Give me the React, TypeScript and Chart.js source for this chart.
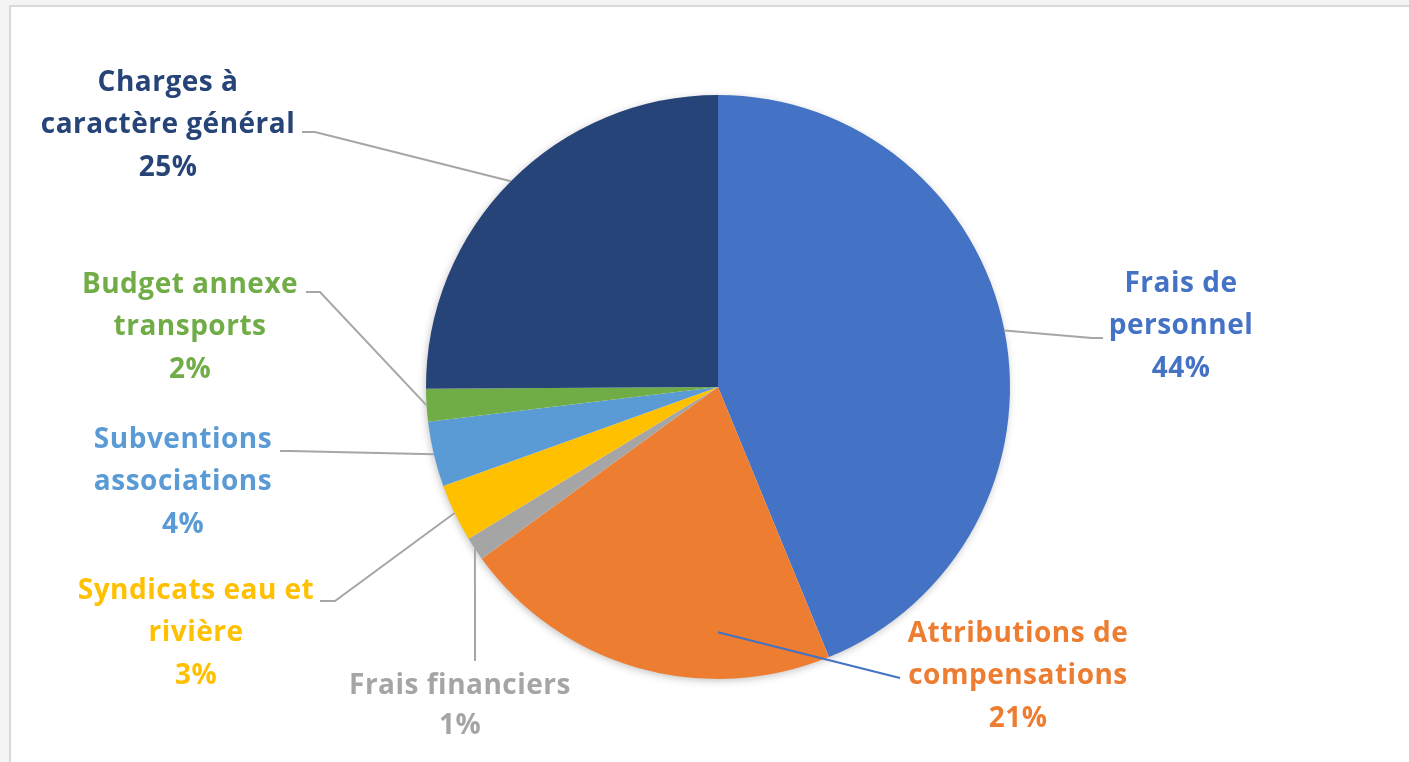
import React, { useEffect, useRef } from "react";
import { Chart, registerables } from "chart.js";

Chart.register(...registerables);

const categories = [
  "Frais de personnel",
  "Attributions de compensations",
  "Frais financiers",
  "Syndicats eau et rivière",
  "Subventions associations",
  "Budget annexe transports",
  "Charges à caractère général",
];
const labelLines = [
  ["Frais de", "personnel"],
  ["Attributions de", "compensations"],
  ["Frais financiers"],
  ["Syndicats eau et", "rivière"],
  ["Subventions", "associations"],
  ["Budget annexe", "transports"],
  ["Charges à", "caractère général"],
];
const values = [43.8, 21.2, 1.3, 3.2, 3.6, 1.8, 25.1];
const colors = ["#4472C4", "#ED7D31", "#A5A5A5", "#FFC000", "#5B9BD5", "#70AD47", "#264478"];

// label layout (x center, first line y) and leader anchor points
const labelPos = [
  { x: 1181, y: 284 },
  { x: 1018, y: 634 },
  { x: 460, y: 686 },
  { x: 196, y: 591 },
  { x: 183, y: 440 },
  { x: 190, y: 285 },
  { x: 168, y: 83 },
];
const leaders: { pts: number[][]; color: string }[] = [
  { pts: [[1103, 338], [1092, 338]], color: "#A6A6A6" },
  { pts: [[900, 678]], color: "#4472C4" },
  { pts: [[475, 661]], color: "#A6A6A6" },
  { pts: [[320, 601], [335, 601]], color: "#A6A6A6" },
  { pts: [[280, 451], [290, 451]], color: "#A6A6A6" },
  { pts: [[306, 292], [320, 292]], color: "#A6A6A6" },
  { pts: [[302, 132], [315, 132]], color: "#A6A6A6" },
];

const FONT = "'Open Sans', Lato, sans-serif";

const framePlugin = {
  id: "frame",
  beforeDraw(chart: any) {
    const ctx = chart.ctx;
    const w = chart.width;
    const h = chart.height;
    ctx.save();
    ctx.fillStyle = "#F4F4F4";
    ctx.fillRect(0, 0, w, h);
    ctx.fillStyle = "#FFFFFF";
    ctx.fillRect(11, 7, w - 11, h - 7);
    ctx.strokeStyle = "#D9D9D9";
    ctx.lineWidth = 2;
    ctx.beginPath();
    ctx.moveTo(10, h);
    ctx.lineTo(10, 6);
    ctx.lineTo(w, 6);
    ctx.stroke();
    ctx.restore();
  },
  beforeDatasetsDraw(chart: any) {
    const meta = chart.getDatasetMeta(0);
    const a = meta.data[0];
    if (!a) return;
    const ctx = chart.ctx;
    ctx.save();
    ctx.shadowColor = "rgba(0,0,0,0.28)";
    ctx.shadowBlur = 9;
    ctx.shadowOffsetX = -1;
    ctx.shadowOffsetY = 2;
    ctx.fillStyle = "#FFFFFF";
    ctx.beginPath();
    ctx.arc(a.x, a.y, a.outerRadius - 1, 0, Math.PI * 2);
    ctx.fill();
    ctx.restore();
  },
};

const labelPlugin = {
  id: "outLabels",
  afterDatasetsDraw(chart: any) {
    const ctx = chart.ctx;
    const meta = chart.getDatasetMeta(0);
    const total = values.reduce((s, v) => s + v, 0);
    meta.data.forEach((arc: any, i: number) => {
      const mid = (arc.startAngle + arc.endAngle) / 2;
      const r = arc.outerRadius;
      let ax = arc.x + Math.cos(mid) * r;
      let ay = arc.y + Math.sin(mid) * r;
      if (i === 1) {
        ax = arc.x;
        ay = arc.y + r * 0.84;
      }
      const ld = leaders[i];
      ctx.save();
      ctx.strokeStyle = ld.color;
      ctx.lineWidth = 2;
      ctx.beginPath();
      ctx.moveTo(ld.pts[0][0], ld.pts[0][1]);
      for (let k = 1; k < ld.pts.length; k++) ctx.lineTo(ld.pts[k][0], ld.pts[k][1]);
      ctx.lineTo(ax, ay);
      ctx.stroke();
      ctx.restore();

      const lines = [...labelLines[i], Math.round((values[i] / total) * 100) + "%"];
      const p = labelPos[i];
      ctx.save();
      ctx.fillStyle = colors[i];
      ctx.font = "bold 28px " + FONT;
      try {
        (ctx as any).letterSpacing = "0.5px";
      } catch (e) {}
      ctx.textAlign = "center";
      ctx.textBaseline = "middle";
      const lh = i === 2 ? 40 : 42.5;
      lines.forEach((t, k) => ctx.fillText(t, p.x, p.y + k * lh));
      ctx.restore();
    });
  },
};

export default function App() {
  const ref = useRef<HTMLCanvasElement | null>(null);
  useEffect(() => {
    if (!ref.current) return;
    const chart = new Chart(ref.current, {
      type: "pie",
      data: {
        labels: categories,
        datasets: [
          {
            data: values,
            backgroundColor: colors,
            borderWidth: 0,
          },
        ],
      },
      options: {
        responsive: false,
        animation: false,
        layout: { padding: { left: 426, top: 95, right: 399, bottom: 83 } },
        plugins: {
          legend: { display: false },
          tooltip: { enabled: false },
          title: { display: false },
        },
      },
      plugins: [framePlugin, labelPlugin],
    });
    return () => chart.destroy();
  }, []);
  return (
    <div style={{ position: "absolute", left: 0, top: 0, width: 1409, height: 762 }}>
      <canvas ref={ref} width={1409} height={762} style={{ display: "block" }} />
    </div>
  );
}
